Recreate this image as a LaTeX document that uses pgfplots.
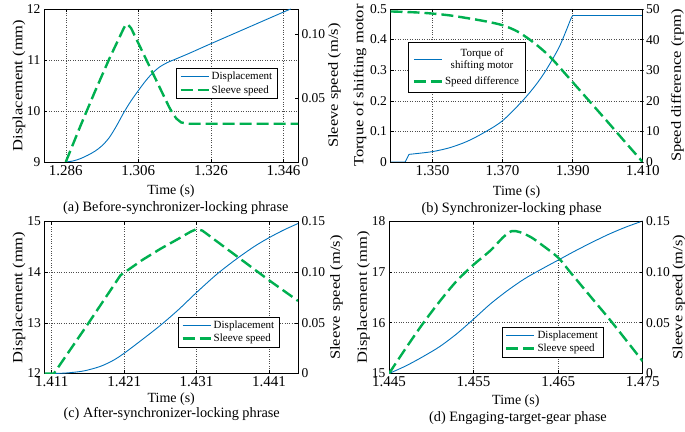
\documentclass[border=0pt]{standalone}
\usepackage{pgfplots}
\pgfplotsset{compat=1.18}
\usepackage{fontspec}
\setmainfont{Liberation Serif}
\definecolor{mblue}{RGB}{0,114,189}
\definecolor{mgreen}{RGB}{0,176,80}
\pgfplotsset{
  base/.style={scale only axis, anchor=south west, scaled ticks=false,
    axis line style={black,line width=0.7pt},
    tick style={black,line width=0.5pt}, major tick length=3pt,
    xticklabel style={font=\fontsize{15}{17}\selectfont},
    yticklabel style={font=\fontsize{13.5}{15}\selectfont},
    xlabel style={font=\fontsize{14}{16}\selectfont},
    ylabel style={font=\fontsize{16.5}{18}\selectfont},
    legend style={draw=black, line width=0.5pt, fill=white,
      font=\fontsize{11}{12.5}\selectfont, inner xsep=3pt, inner ysep=2pt,
      row sep=0pt, anchor=north west},
    legend cell align=left,
    legend image code/.code={\draw[##1] (0pt,0pt) -- (28pt,0pt);},
  },
  leftax/.style={base, grid=major, grid style={dotted, black!70, line width=0.5pt}, ytick pos=left},
  rightax/.style={base, axis y line*=right, axis x line=none},
  disp/.style={mblue, line width=0.9pt},
  spd/.style={mgreen, line width=2.4pt, dash pattern=on 12pt off 5pt},
}
\begin{document}
\begin{tikzpicture}
\useasboundingbox (0,0) rectangle (685pt,431pt);
% ---------------- (a)
\begin{axis}[leftax, at={(44pt,269pt)}, width=254pt, height=153pt,
  xmin=1.28, xmax=1.35, ymin=9, ymax=12,
  xtick={1.286,1.306,1.326,1.346}, xticklabels={1.286,1.306,1.326,1.346},
  ytick={9,10,11,12}, yticklabels={9,10,11,12},
  xlabel={Time (s)}, ylabel={Displacement (mm)},
  xlabel style={at={(axis description cs:0.5,-0.19)},anchor=center},
  ylabel style={at={(axis description cs:-0.098,0.5)},anchor=center,yscale=0.85}]
\addplot[disp, smooth] table[row sep=\\]{
1.286 9.00\\ 1.288 9.02\\ 1.290 9.065\\ 1.292 9.13\\ 1.294 9.21\\ 1.296 9.32\\
1.298 9.48\\ 1.300 9.71\\ 1.302 9.97\\ 1.304 10.20\\ 1.306 10.40\\ 1.308 10.59\\
1.310 10.75\\ 1.312 10.87\\ 1.314 10.95\\ 1.316 11.01\\ 1.320 11.13\\ 1.326 11.32\\
1.336 11.63\\ 1.346 11.94\\ 1.348 12.00\\
};
\end{axis}
\begin{axis}[rightax, at={(44pt,269pt)}, width=254pt, height=153pt,
  xmin=1.28, xmax=1.35, ymin=0, ymax=0.12,
  ytick={0,0.05,0.1}, yticklabels={0,0.05,0.10},
  ylabel={Sleeve speed (m/s)},
  ylabel style={at={(axis description cs:1.144,0.5)},anchor=center,yscale=0.85},
  legend style={at={(axis description cs:0.52,0.614)}}]
\addlegendimage{disp}\addlegendentry{Displacement}
\addplot[spd] table[row sep=\\]{
1.286 0\\ 1.290 0.028\\ 1.294 0.055\\ 1.298 0.081\\ 1.301 0.099\\ 1.302 0.105\\
1.3026 0.108\\ 1.3032 0.1075\\ 1.304 0.105\\ 1.3145 0.043\\ 1.3155 0.038\\ 1.3165 0.034\\
1.3178 0.031\\ 1.320 0.030\\ 1.350 0.030\\
};
\addlegendentry{Sleeve speed}
\end{axis}
% ---------------- (b)
\begin{axis}[leftax, at={(390.5pt,269pt)}, width=252.2pt, height=153pt,
  xmin=1.338, xmax=1.41, ymin=0, ymax=0.5,
  xtick={1.35,1.37,1.39,1.41}, xticklabels={1.350,1.370,1.390,1.410},
  ytick={0,0.1,0.2,0.3,0.4,0.5}, yticklabels={0,0.1,0.2,0.3,0.4,0.5},
  xlabel={Time (s)}, ylabel={Torque of shifting motor},
  xlabel style={at={(axis description cs:0.5,-0.2)},anchor=center},
  ylabel style={at={(axis description cs:-0.121,0.5)},anchor=center,yscale=0.85}]
\addplot[disp] table[row sep=\\]{
1.338 0\\ 1.3422 0\\ 1.3433 0.025\\
};
\addplot[disp, smooth] table[row sep=\\]{
1.3433 0.025\\ 1.345 0.027\\ 1.350 0.034\\ 1.355 0.047\\
1.360 0.068\\ 1.365 0.098\\ 1.370 0.135\\ 1.3757 0.200\\ 1.3795 0.252\\ 1.3824 0.300\\ 1.386 0.372\\
1.388 0.425\\ 1.3895 0.468\\ 1.390 0.478\\
};
\addplot[disp] table[row sep=\\]{
1.390 0.478\\ 1.410 0.478\\
};
\end{axis}
\begin{axis}[rightax, at={(390.5pt,269pt)}, width=252.2pt, height=153pt,
  xmin=1.338, xmax=1.41, ymin=0, ymax=50,
  ytick={0,10,20,30,40,50}, yticklabels={0,10,20,30,40,50},
  ylabel={Speed difference (rpm)},
  ylabel style={at={(axis description cs:1.138,0.5)},anchor=center,yscale=0.85},
  legend style={at={(axis description cs:0.071,0.784)}, cells={align=center},
    inner ysep=4pt, inner xsep=4pt, row sep=3pt},
  legend cell align=center]
\addlegendimage{disp}\addlegendentry{Torque of\\shifting motor}
\addplot[spd, smooth] table[row sep=\\]{
1.338 49.2\\ 1.345 48.9\\ 1.350 48.5\\ 1.355 47.9\\ 1.360 47.0\\ 1.365 46.0\\
1.370 44.7\\ 1.374 42.8\\ 1.377 40.6\\ 1.380 38.0\\ 1.383 35.0\\ 1.385 32.6\\
1.387 30.0\\ 1.390 26.1\\ 1.395 19.6\\ 1.400 13.1\\ 1.405 6.5\\ 1.410 0\\
};
\addlegendentry{Speed difference}
\end{axis}
% ---------------- (c)
\begin{axis}[leftax, at={(44.5pt,57.5pt)}, width=253.5pt, height=152pt,
  xmin=1.41, xmax=1.445, ymin=12, ymax=15,
  xtick={1.411,1.421,1.431,1.441}, xticklabels={1.411,1.421,1.431,1.441},
  ytick={12,13,14,15}, yticklabels={12,13,14,15},
  xlabel={Time (s)}, ylabel={Displacement (mm)},
  xlabel style={at={(axis description cs:0.5,-0.17)},anchor=center},
  ylabel style={at={(axis description cs:-0.1006,0.5)},anchor=center,yscale=0.85}]
\addplot[disp] table[row sep=\\]{
1.410 12.0\\ 1.411 12.0\\
};
\addplot[disp, smooth] table[row sep=\\]{
1.411 12.0\\ 1.413 12.01\\ 1.4154 12.05\\ 1.4177 12.14\\ 1.4195 12.26\\
1.421 12.40\\ 1.4235 12.67\\ 1.426 12.95\\ 1.4285 13.26\\ 1.431 13.60\\ 1.4338 13.96\\
1.4365 14.26\\ 1.439 14.51\\ 1.441 14.68\\ 1.443 14.83\\ 1.445 14.96\\
};
\end{axis}
\begin{axis}[rightax, at={(44.5pt,57.5pt)}, width=253.5pt, height=152pt,
  xmin=1.41, xmax=1.445, ymin=0, ymax=0.15,
  ytick={0,0.05,0.1,0.15}, yticklabels={0,0.05,0.10,0.15},
  ylabel={Sleeve speed (m/s)},
  ylabel style={at={(axis description cs:1.152,0.5)},anchor=center,yscale=0.85},
  legend style={at={(axis description cs:0.527,0.374)}}]
\addlegendimage{disp}\addlegendentry{Displacement}
\addplot[spd] table[row sep=\\]{
1.410 0\\ 1.4113 0\\ 1.4161 0.050\\ 1.4205 0.097\\ 1.4215 0.102\\ 1.4235 0.112\\ 1.426 0.123\\
1.4285 0.133\\ 1.4302 0.140\\ 1.431 0.1425\\ 1.4318 0.141\\ 1.441 0.092\\ 1.445 0.0717\\
};
\addlegendentry{Sleeve speed}
\end{axis}
% ---------------- (d)
\begin{axis}[leftax, at={(389pt,57.5pt)}, width=253.7pt, height=152.5pt,
  xmin=1.445, xmax=1.475, ymin=15, ymax=18,
  xtick={1.445,1.455,1.465,1.475}, xticklabels={1.445,1.455,1.465,1.475},
  ytick={15,16,17,18}, yticklabels={15,16,17,18},
  xlabel={Time (s)}, ylabel={Displacement (mm)},
  xlabel style={at={(axis description cs:0.5,-0.178)},anchor=center},
  ylabel style={at={(axis description cs:-0.1005,0.5)},anchor=center,yscale=0.85}]
\addplot[disp, smooth] table[row sep=\\]{
1.445 15.0\\ 1.447 15.15\\ 1.449 15.33\\ 1.451 15.53\\ 1.453 15.78\\ 1.455 16.07\\
1.457 16.37\\ 1.459 16.63\\ 1.461 16.86\\ 1.463 17.05\\ 1.465 17.23\\ 1.467 17.41\\
1.469 17.58\\ 1.471 17.74\\ 1.473 17.88\\ 1.475 18.0\\
};
\end{axis}
\begin{axis}[rightax, at={(389pt,57.5pt)}, width=253.7pt, height=152.5pt,
  xmin=1.445, xmax=1.475, ymin=0, ymax=0.15,
  ytick={0,0.05,0.1,0.15}, yticklabels={0,0.05,0.10,0.15},
  ylabel={Sleeve speed (m/s)},
  ylabel style={at={(axis description cs:1.143,0.5)},anchor=center,yscale=0.85},
  legend style={at={(axis description cs:0.445,0.307)}}]
\addlegendimage{disp}\addlegendentry{Displacement}
\addplot[spd, smooth] table[row sep=\\]{
1.445 0\\ 1.447 0.025\\ 1.449 0.049\\ 1.451 0.071\\ 1.453 0.091\\ 1.455 0.107\\
1.457 0.121\\ 1.4585 0.134\\ 1.4595 0.140\\ 1.4605 0.139\\ 1.4618 0.134\\ 1.463 0.127\\
1.465 0.114\\ 1.4664 0.100\\ 1.469 0.074\\ 1.4714 0.050\\ 1.475 0.012\\
};
\addlegendentry{Sleeve speed}
\end{axis}
% captions
\node[font=\fontsize{14.3}{16}\selectfont] at (175.8pt,222.7pt) {(a) Before-synchronizer-locking phrase};
\node[font=\fontsize{14.3}{16}\selectfont] at (511.7pt,221.7pt) {(b) Synchronizer-locking phase};
\node[font=\fontsize{14.3}{16}\selectfont] at (171.7pt,17pt) {(c) After-synchronizer-locking phrase};
\node[font=\fontsize{14.3}{16}\selectfont] at (518pt,13.3pt) {(d) Engaging-target-gear phase};
\end{tikzpicture}
\end{document}
